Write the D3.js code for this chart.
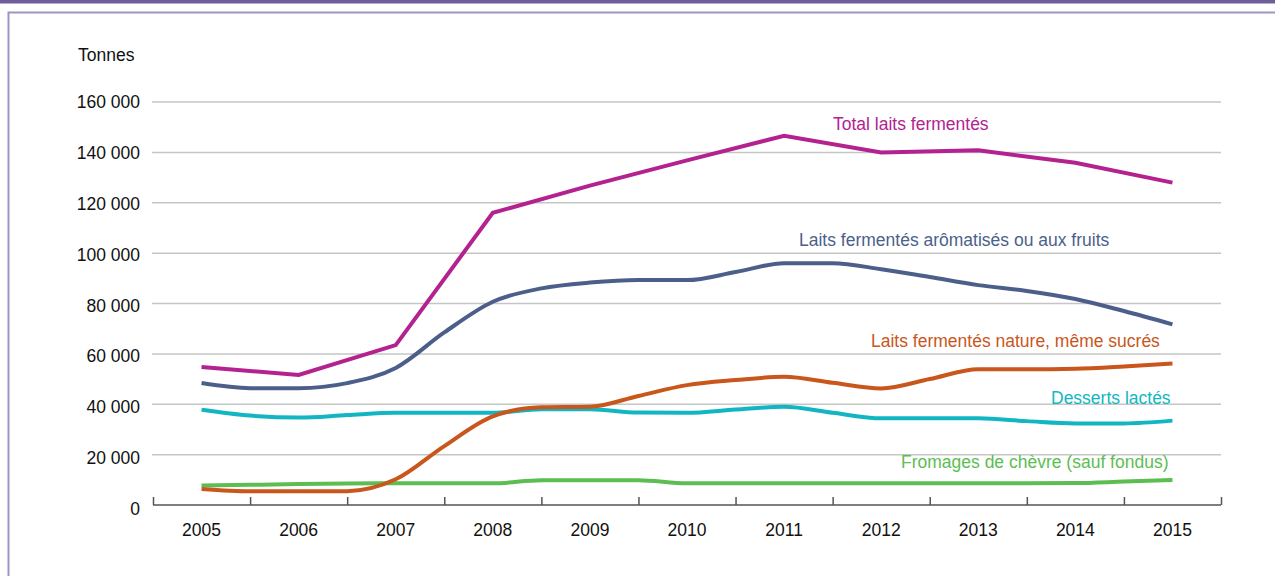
<!DOCTYPE html>
<html>
<head>
<meta charset="utf-8">
<script src="https://cdn.jsdelivr.net/npm/d3@7"></script>
<style>
body { margin: 0; background: #fff; }
#chart { width: 1275px; height: 576px; }
text { font-family: "Liberation Sans", Arial, sans-serif; }
</style>
</head>
<body>
<div id="chart"></div>
<script>
// annual categories + half-year steps used by the detailed series
var years = [2005, 2006, 2007, 2008, 2009, 2010, 2011, 2012, 2013, 2014, 2015];
var halfYears = [2005, 2005.5, 2006, 2006.5, 2007, 2007.5, 2008, 2008.5, 2009, 2009.5, 2010,
    2010.5, 2011, 2011.5, 2012, 2012.5, 2013, 2013.5, 2014, 2014.5, 2015];
var yTicks = [0, 20000, 40000, 60000, 80000, 100000, 120000, 140000, 160000];

var totalLaits = [54800, 51600, 63500, 116000, 126800, 136800, 146600, 140000, 140800, 135900, 128000];
var laitsAromatises = [48400, 46400, 46400, 48400, 54400, 68500, 80700, 86000, 88300, 89300, 89300,
    92500, 96000, 96000, 93600, 90500, 87300, 85000, 81800, 77000, 71700];
var laitsNature = [6400, 5500, 5500, 5500, 10200, 23400, 35200, 38800, 39000, 43300, 47600,
    49600, 50900, 48500, 46300, 50000, 53900, 53900, 54100, 55000, 56200];
var dessertsLactes = [37800, 35500, 34700, 35700, 36600, 36600, 36600, 38000, 38000, 36700, 36600,
    37900, 39000, 36600, 34400, 34400, 34400, 33300, 32400, 32400, 33500];
var fromagesChevre = [7700, 8000, 8300, 8500, 8600, 8600, 8600, 9800, 9800, 9800, 8600,
    8600, 8600, 8600, 8600, 8600, 8600, 8600, 8700, 9300, 9900];

var seriesNames = ["Total laits fermentés", "Laits fermentés arômatisés ou aux fruits",
    "Laits fermentés nature, même sucrés", "Desserts lactés", "Fromages de chèvre (sauf fondus)"];
var colors = ["#b3228f", "#4c5f8b", "#c9561b", "#12b6c2", "#5cbd52"];

var margin = { top: 102, right: 54, bottom: 71, left: 153 },
    width = 1275 - margin.left - margin.right,
    height = 576 - margin.top - margin.bottom,
    fontSize = "17.5px";

var root = d3.select("#chart").append("svg")
    .attr("width", 1275)
    .attr("height", 576);

// frame
root.append("rect").attr("x", 0).attr("y", 0).attr("width", 1275).attr("height", 3.5)
    .style("fill", "#6e5c9b");
root.append("path").attr("d", "M8.5,576V12.5H1275")
    .style("fill", "none").style("stroke", "#a093c6").style("stroke-width", 2);

var svg = root.append("g")
    .attr("transform", "translate(" + margin.left + "," + margin.top + ")");

var x = d3.scaleLinear().domain([2004.5, 2015.5]).range([0, width]);
var y = d3.scaleLinear().domain([0, 160000]).range([height, 0]);

// gridlines
svg.selectAll(".grid")
    .data(yTicks.slice(1))
    .enter().append("line")
    .attr("x1", -1)
    .attr("x2", width)
    .attr("y1", function (d) { return y(d); })
    .attr("y2", function (d) { return y(d); })
    .style("stroke", "#c6c6c6")
    .style("stroke-width", 1.5);

// y labels
svg.selectAll(".yLabel")
    .data(yTicks)
    .enter().append("text")
    .text(function (d) { return d === 0 ? "0" : d3.format(",")(d).replace(/,/g, " "); })
    .attr("x", -13)
    .attr("y", function (d) { return y(d) + 6 + (160000 - d) / 160000 * 4; })
    .style("text-anchor", "end")
    .style("font-size", fontSize)
    .style("fill", "#111");

svg.append("text")
    .text("Tonnes")
    .attr("x", -75)
    .attr("y", -41)
    .style("font-size", fontSize)
    .style("fill", "#111");

// x axis: ticks between years
var tickPos = d3.range(2004.5, 2016, 1);
var xAxis = svg.append("g")
    .attr("transform", "translate(0," + height + ")")
    .call(d3.axisBottom(x).tickValues(tickPos).tickSize(-8).tickFormat(""));
xAxis.select(".domain").attr("d", "M0,0H" + width).style("stroke", "#555").style("stroke-width", 1.5);
xAxis.selectAll(".tick line").style("stroke", "#555").style("stroke-width", 1.5);

svg.selectAll(".xLabel")
    .data(years)
    .enter().append("text")
    .text(function (d) { return d; })
    .attr("x", function (d) { return x(d); })
    .attr("y", height + 31)
    .style("text-anchor", "middle")
    .style("font-size", fontSize)
    .style("fill", "#111");

// lines
var lineYear = d3.line()
    .x(function (d, i) { return x(years[i]); })
    .y(function (d) { return y(d); });
var lineHalf = d3.line()
    .curve(d3.curveMonotoneX)
    .x(function (d, i) { return x(halfYears[i]); })
    .y(function (d) { return y(d); });

var halfSeries = [laitsAromatises, laitsNature, dessertsLactes, fromagesChevre];
svg.selectAll(".half")
    .data(halfSeries.slice().reverse())
    .enter().append("path")
    .attr("d", lineHalf)
    .style("fill", "none")
    .style("stroke", function (d, i) { return colors[4 - i]; })
    .style("stroke-width", 4);

svg.append("path")
    .attr("d", lineYear(totalLaits))
    .style("fill", "none")
    .style("stroke", colors[0])
    .style("stroke-width", 4);

// series labels
var labelPos = [
    { x: 833, y: 130 },
    { x: 799, y: 246 },
    { x: 871, y: 347 },
    { x: 1051, y: 404 },
    { x: 901, y: 468 }
];
root.selectAll(".sLabel")
    .data(seriesNames)
    .enter().append("text")
    .text(function (d) { return d; })
    .attr("x", function (d, i) { return labelPos[i].x; })
    .attr("y", function (d, i) { return labelPos[i].y; })
    .style("font-size", fontSize)
    .style("fill", function (d, i) { return colors[i]; });
</script>
</body>
</html>
